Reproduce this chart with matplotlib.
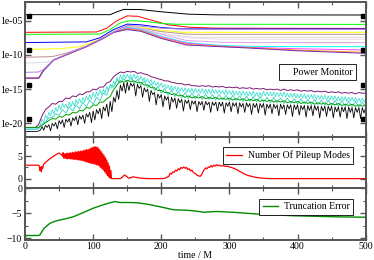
import numpy as np
import matplotlib
matplotlib.use("Agg")
import matplotlib.pyplot as plt
from matplotlib.lines import Line2D
import matplotlib.transforms as mtransforms

plt.rcParams['font.family'] = ['Liberation Serif', 'DejaVu Serif']
plt.rcParams['font.size'] = 7

# ---------------- Power monitor: smooth upper modes (log10 values) ----------------
t_black = [0, 125, 135, 145, 170, 200, 240, 280, 500]
v_black = [-4.12, -4.12, -3.7, -3.35, -3.38, -3.7, -4.05, -4.15, -4.17]

t_red = [0, 105, 120, 135, 150, 165, 185, 210, 240, 280, 500]
v_red = [-6.7, -6.65, -6.1, -5.0, -4.3, -4.35, -4.9, -5.6, -5.95, -6.1, -6.13]

t_green = [0, 110, 125, 140, 155, 175, 200, 220, 500]
v_green = [-7.0, -6.95, -6.3, -5.3, -5.0, -5.1, -5.4, -5.52, -5.54]

t_blue = [0, 90, 110, 130, 150, 170, 200, 230, 500]
v_blue = [-8.2, -8.1, -7.5, -6.3, -5.5, -5.6, -6.0, -6.2, -6.2]

t_yellow = [0, 50, 80, 100, 115, 130, 150, 170, 200, 230, 500]
v_yellow = [-9.2, -9.1, -8.8, -8.1, -7.5, -6.6, -5.85, -6.0, -6.4, -6.7, -6.7]

t_brown = [0, 40, 62, 90, 115, 130, 150, 170, 200, 240, 500]
v_brown = [-10.35, -10.25, -9.7, -8.7, -7.5, -6.65, -5.9, -6.1, -6.6, -6.99, -6.99]

t_grey = [0, 30, 45, 66, 90, 115, 130, 150, 170, 200, 250, 500]
v_grey = [-11.2, -11.1, -10.6, -9.7, -8.75, -7.55, -6.68, -5.95, -6.2, -6.9, -7.43, -7.43]

t_violet = [0, 20, 27, 42, 66, 90, 115, 130, 150, 170, 200, 240, 500]
v_violet = [-12.55, -12.5, -12.15, -10.7, -9.72, -8.75, -7.52, -6.65, -5.7, -5.8, -6.1, -6.27, -6.27]

t_low = [0, 20, 27, 42, 66, 90, 115, 130, 150, 170, 200, 237, 286, 330, 400, 500]
v_light = [-13.4, -13.4, -12.3, -10.75, -9.77, -8.8, -7.57, -6.7, -5.9, -6.1, -6.9, -7.5, -7.7, -7.72, -7.72, -7.72]
v_pink = [-13.4, -13.4, -12.3, -10.75, -9.77, -8.8, -7.57, -6.7, -5.9, -6.2, -7.0, -7.9, -8.15, -8.2, -8.21, -8.21]
v_cyan = [-13.4, -13.4, -12.3, -10.75, -9.77, -8.8, -7.57, -6.7, -6.0, -6.3, -7.3, -8.2, -8.6, -8.75, -8.8, -8.8]
v_magenta = [-13.4, -13.4, -12.3, -10.75, -9.77, -8.8, -7.57, -6.7, -6.1, -6.4, -7.4, -8.3, -8.7, -8.9, -9.1, -9.28]
v_orange = [-13.4, -13.4, -12.3, -10.75, -9.77, -8.8, -7.57, -6.7, -6.2, -6.45, -7.5, -8.45, -8.75, -8.95, -9.3, -9.62]
v_indigo = [-13.4, -13.4, -12.3, -10.75, -9.77, -8.8, -7.57, -6.7, -6.3, -6.55, -7.6, -8.55, -8.8, -9.0, -9.4, -9.77]

# ---------------- Power monitor: noisy lower modes (log10 values) ----------------
t_noisy5 = list(range(0, 501, 5))          # every 5 M
t_noisy25 = [k * 2.5 for k in range(201)]  # every 2.5 M

v_maroon = [-20.6, -20.6, -20.6, -20.6, -20.2, -18.9, -18.0, -17.6, -17.1, -17.2,
            -16.8, -16.8, -16.3, -16.4, -16.0, -16.1, -15.7, -15.8, -15.4, -15.4,
            -15.0, -15.1, -14.7, -14.7, -14.1, -13.9, -13.2, -12.8, -12.5, -12.6,
            -12.4, -12.5, -12.4, -12.7, -12.6, -12.8, -12.9, -13.2, -13.3, -13.5,
            -13.6, -13.8, -13.8, -14.0, -14.1, -14.2, -14.2, -14.4, -14.3, -14.5,
            -14.5, -14.6, -14.5, -14.6, -14.5, -14.7, -14.6, -14.7, -14.6, -14.8,
            -14.7, -14.8, -14.7, -14.9, -14.8, -14.9, -14.8, -15.0, -14.9, -15.0,
            -14.9, -15.1, -15.0, -15.1, -15.0, -15.2, -15.0, -15.2, -15.1, -15.2,
            -15.1, -15.3, -15.2, -15.3, -15.2, -15.4, -15.3, -15.4, -15.3, -15.5,
            -15.4, -15.5, -15.4, -15.6, -15.5, -15.6, -15.5, -15.7, -15.5, -15.6,
            -15.6]
v_turq1 = [-20.8, -20.8, -20.8, -20.8, -20.8, -20.8, -20.8, -20.8, -20.7, -20.2,
           -19.4, -19.9, -18.8, -19.3, -18.4, -18.9, -18.0, -18.6, -17.7, -18.3,
           -17.3, -18.0, -17.1, -17.7, -17.2, -17.8, -16.9, -17.6, -16.8, -17.5,
           -16.5, -17.2, -16.4, -17.0, -16.2, -16.9, -16.0, -16.6, -15.8, -16.5,
           -15.5, -16.2, -15.4, -16.0, -15.1, -15.8, -15.0, -15.6, -14.6, -15.3,
           -14.3, -14.9, -13.8, -14.4, -13.3, -13.9, -12.9, -13.6, -12.8, -13.5,
           -12.8, -13.4, -12.9, -13.6, -12.8, -13.5, -13.0, -13.7, -13.1, -13.8,
           -13.3, -14.0, -13.5, -14.1, -13.6, -14.3, -13.8, -14.5, -14.0, -14.6,
           -14.1, -14.8, -14.3, -14.9, -14.4, -15.1, -14.5, -15.2, -14.6, -15.3,
           -14.7, -15.3, -14.8, -15.4, -14.8, -15.5, -14.9, -15.5, -14.9, -15.6,
           -14.9, -15.5, -15.0, -15.6, -14.9, -15.6, -15.0, -15.6, -15.0, -15.7,
           -15.0, -15.6, -15.1, -15.7, -15.1, -15.7, -15.2, -15.8, -15.1, -15.8,
           -15.2, -15.8, -15.2, -15.9, -15.3, -15.9, -15.3, -16.0, -15.3, -15.9,
           -15.4, -16.0, -15.4, -16.0, -15.3, -16.1, -15.5, -16.1, -15.5, -16.1,
           -15.3, -16.0, -15.4, -16.0, -15.4, -16.0, -15.4, -16.1, -15.5, -16.1,
           -15.5, -16.1, -15.4, -16.2, -15.6, -16.2, -15.6, -16.2, -15.6, -16.3,
           -15.7, -16.3, -15.7, -16.3, -15.7, -16.4, -15.8, -16.4, -15.8, -16.4,
           -15.8, -16.5, -15.9, -16.5, -15.9, -16.5, -15.9, -16.6, -16.0, -16.6,
           -16.0, -16.6, -16.0, -16.7, -16.1, -16.7, -16.1, -16.7, -16.1, -16.8,
           -16.2, -16.8, -16.2, -16.8, -16.2, -16.9, -16.3, -16.9, -16.3, -16.9,
           -16.3]
v_turq2 = [-20.9, -20.9, -20.9, -20.9, -20.8, -20.1, -19.8, -19.2, -19.1, -18.6,
           -18.8, -18.0, -18.5, -17.6, -18.2, -17.3, -17.9, -16.9, -17.6, -16.6,
           -17.2, -16.2, -16.7, -15.6, -15.9, -14.4, -14.7, -13.6, -14.1, -13.5,
           -14.0, -13.4, -14.1, -13.6, -14.4, -13.8, -14.8, -14.2, -15.2, -14.6,
           -15.6, -14.9, -15.9, -15.1, -16.1, -15.3, -16.3, -15.5, -16.4, -15.6,
           -16.4, -15.7, -16.5, -15.7, -16.5, -15.8, -16.6, -15.8, -16.6, -15.9,
           -16.7, -15.9, -16.7, -16.0, -16.8, -16.0, -16.8, -16.1, -16.9, -16.1,
           -16.9, -16.2, -17.0, -16.2, -17.0, -16.3, -17.1, -16.3, -17.1, -16.4,
           -17.2, -16.4, -17.2, -16.5, -17.3, -16.5, -17.3, -16.6, -17.4, -16.6,
           -17.4, -16.7, -17.5, -16.7, -17.5, -16.8, -17.6, -16.8, -17.6, -16.9,
           -17.6]
v_greenN = [-20.6, -20.6, -20.6, -20.6, -20.6, -20.3, -19.9, -19.6, -19.3, -19.4,
            -19.0, -19.1, -18.7, -18.8, -18.4, -18.5, -18.1, -18.2, -17.7, -17.8,
            -17.3, -17.4, -16.9, -16.9, -16.4, -16.1, -15.1, -14.4, -13.8, -14.0,
            -13.7, -13.9, -13.8, -14.1, -14.0, -14.4, -14.4, -14.8, -14.8, -15.2,
            -15.2, -15.5, -15.5, -15.8, -15.7, -16.0, -15.9, -16.2, -16.0, -16.3,
            -16.1, -16.3, -16.1, -16.4, -16.2, -16.4, -16.2, -16.5, -16.3, -16.5,
            -16.3, -16.6, -16.4, -16.6, -16.4, -16.7, -16.5, -16.7, -16.5, -16.8,
            -16.6, -16.8, -16.6, -16.9, -16.7, -16.9, -16.7, -17.0, -16.8, -17.0,
            -16.8, -17.1, -16.9, -17.1, -16.9, -17.2, -17.0, -17.2, -17.0, -17.3,
            -17.1, -17.3, -17.1, -17.4, -17.2, -17.4, -17.2, -17.5, -17.3, -17.5,
            -17.3]
v_blackN = [-21.2, -21.2, -21.2, -21.2, -21.2, -21.2, -21.2, -21.2, -21.1, -21.0,
            -20.5, -21.0, -20.3, -20.6, -20.2, -21.1, -20.0, -20.4, -19.9, -20.8,
            -19.6, -20.1, -19.5, -20.6, -19.4, -19.8, -19.3, -20.4, -19.2, -19.6,
            -19.0, -20.2, -18.9, -19.4, -18.8, -20.0, -18.6, -19.1, -18.4, -19.9,
            -18.2, -19.5, -18.0, -18.6, -17.8, -19.3, -17.6, -18.2, -17.2, -19.0,
            -16.8, -18.3, -16.2, -16.9, -15.2, -16.5, -14.4, -15.3, -14.1, -15.6,
            -14.0, -15.2, -14.1, -14.6, -14.2, -16.0, -14.3, -14.9, -14.5, -16.2,
            -14.8, -15.4, -15.0, -16.8, -15.2, -15.8, -15.5, -17.3, -15.7, -16.3,
            -15.8, -17.6, -16.0, -16.6, -16.1, -18.0, -16.2, -16.9, -16.3, -17.8,
            -16.4, -17.0, -16.5, -18.2, -16.6, -17.1, -16.6, -18.0, -16.7, -17.2,
            -16.7, -18.3, -16.8, -17.3, -16.8, -18.1, -16.8, -17.3, -16.9, -18.4,
            -16.9, -17.4, -16.9, -18.2, -16.9, -17.5, -16.9, -18.5, -17.0, -17.5,
            -16.9, -18.3, -17.0, -17.5, -17.0, -18.6, -17.0, -17.6, -17.1, -18.4,
            -17.0, -17.6, -17.1, -18.7, -17.1, -17.7, -17.1, -18.5, -17.1, -17.7,
            -17.1, -18.8, -17.2, -17.8, -17.2, -18.6, -17.2, -17.8, -17.3, -18.9,
            -17.2, -17.9, -17.3, -18.7, -17.3, -17.9, -17.3, -19.0, -17.3, -18.0,
            -17.3, -18.8, -17.4, -18.0, -17.4, -19.1, -17.4, -18.1, -17.4, -18.9,
            -17.4, -18.1, -17.5, -19.2, -17.5, -18.2, -17.5, -19.0, -17.5, -18.2,
            -17.5, -19.2, -17.6, -18.3, -17.6, -19.1, -17.6, -18.3, -17.6, -19.3,
            -17.6, -18.4, -17.7, -19.2, -17.7, -18.4, -17.7, -19.3, -17.7, -18.5,
            -17.7]

# ---------------- Number of pileup modes ----------------
t_pile = [0, 5, 10, 15, 20, 21, 22, 23, 24, 25, 26, 27, 28, 30, 33, 36, 40, 44, 48, 50, 52, 54,
          55, 56, 57, 58, 59, 60, 61, 62, 63, 64, 65, 66, 67, 68, 69, 70, 71, 72, 73, 74, 75,
          76, 77, 78, 79, 80, 81, 82, 83, 84, 85, 86, 87, 88, 89, 90, 91, 92, 93, 94, 95, 96,
          97, 98, 99, 100, 101, 102, 103, 104, 105, 106, 107, 108, 109, 110, 111, 112, 113,
          114, 115, 116, 117, 118, 119, 120, 121, 122, 123, 124, 125, 126, 127,
          128, 140, 143, 146, 149, 152, 155, 158, 162, 166, 170, 175, 180, 200, 205, 208, 211,
          213, 215, 217, 219, 221, 223, 225, 227, 229, 231, 233, 235, 237, 239, 241, 243, 245,
          247, 249, 251, 253, 255, 257, 259, 261, 263, 265, 267, 269, 271, 273, 275, 277, 279,
          281, 283, 285, 288, 291, 294, 297, 300, 303, 306, 309, 312, 315, 318, 321, 324, 327,
          330, 333, 336, 340, 345, 350, 355, 360, 500]
n_pile = [3.0, 3.0, 3.0, 3.0, 3.0, 2.8, 1.8, 2.6, 1.5, 2.7, 2.3, 3.1, 3.3, 3.6, 4.0, 4.4, 4.8, 5.2, 5.6, 5.7, 5.5, 5.3,
          5.0, 5.8, 4.6, 5.5, 4.5, 5.6, 4.5, 5.7, 4.4, 5.6, 4.5, 5.8, 4.4, 5.7, 4.4, 5.9, 4.3, 5.8, 4.3, 6.0, 4.3,
          5.9, 4.2, 6.1, 4.2, 6.0, 4.1, 6.2, 4.1, 6.1, 4.0, 6.3, 3.9, 6.3, 3.8, 6.5, 3.7, 6.4, 3.6, 6.6, 3.5, 6.7,
          3.4, 6.9, 3.4, 7.0, 3.3, 7.1, 3.2, 7.1, 3.1, 7.0, 3.0, 6.8, 2.8, 6.4, 2.5, 6.0, 2.2,
          5.6, 1.9, 5.2, 1.5, 4.7, 1.1, 4.2, 0.7, 3.5, 0.4, 2.8, 0.1, 1.8, 0.0,
          0.0, 0.0, 0.4, 0.8, 0.5, 0.1, 0.2, 0.4, 0.3, 0.2, 0.1, 0.05, 0.0, 0.0, 0.05, 0.3, 0.5,
          1.2, 1.0, 1.5, 1.4, 1.9, 1.7, 2.2, 2.0, 2.5, 2.3, 2.6, 2.3, 2.5, 2.0, 2.2, 1.7, 1.9,
          1.4, 1.2, 1.0, 0.7, 0.6, 0.5, 0.8, 1.5, 2.0, 2.4, 2.2, 2.6, 2.5, 2.9, 2.6, 3.0, 2.8,
          3.1, 2.9, 3.0, 2.8, 2.9, 2.7, 2.8, 2.6, 2.5, 2.3, 2.1, 1.9, 1.6, 1.4, 1.1, 0.9, 0.7,
          0.6, 0.5, 0.35, 0.25, 0.15, 0.08, 0.03, 0.0, 0.0]

# ---------------- Truncation error ----------------
t_trunc = [0, 20, 22, 28, 36.7, 44, 51, 60, 71, 85, 100, 115, 125, 132, 139, 150, 164, 180, 198,
           218, 237, 250, 262, 281, 305, 345, 394, 453, 500]
v_trunc = [-9.45, -9.45, -9.3, -8.0, -7.0, -6.6, -6.35, -6.1, -5.7, -4.9, -4.0, -3.3, -2.9, -2.65,
           -2.85, -2.85, -2.9, -3.2, -3.7, -4.3, -4.4, -4.55, -4.8, -4.65, -4.8, -5.2, -5.5, -5.7, -5.8]

upper_modes = [
    (t_black, v_black, '#000000'),
    (t_red, v_red, '#ff0000'),
    (t_green, v_green, '#00ff00'),
    (t_blue, v_blue, '#0000ff'),
    (t_yellow, v_yellow, '#ffff00'),
    (t_brown, v_brown, '#bc8f8f'),
    (t_grey, v_grey, '#dcdcdc'),
    (t_low, v_light, '#f0d8f0'),
    (t_low, v_pink, '#e0a0e8'),
    (t_low, v_cyan, '#00ffff'),
    (t_low, v_magenta, '#ff40ff'),
    (t_low, v_orange, '#ffa500'),
    (t_low, v_indigo, '#7221bc'),
    (t_violet, v_violet, '#b080e0'),
]
lower_modes = [
    (t_noisy5, v_maroon, '#7a1a78', 0.7),
    (t_noisy5, v_turq2, '#30d0c0', 0.6),
    (t_noisy25, v_turq1, '#40e0d0', 0.6),
    (t_noisy5, v_greenN, '#00a000', 0.7),
    (t_noisy25, v_blackN, '#000000', 0.6),
]

fig = plt.figure(figsize=(3.74, 2.6), dpi=100)
L, W = 25 / 374, 340.7 / 374
ax1 = fig.add_axes([L, 1 - 137 / 260, W, 135 / 260])
ax2 = fig.add_axes([L, 1 - 188 / 260, W, 51 / 260])
ax3 = fig.add_axes([L, 1 - 240 / 260, W, 52 / 260])

spine_c = '#555555'
for ax in (ax1, ax2, ax3):
    ax.set_xlim(0, 500)
    for s in ax.spines.values():
        s.set_color(spine_c)
        s.set_linewidth(1.4)
    ax.tick_params(which='both', direction='in', top=True, right=True, color=spine_c,
                   labelsize=7, pad=2)
    ax.tick_params(which='major', length=4, width=1)
    ax.tick_params(which='minor', length=2, width=0.8)
    ax.set_xticks(range(0, 501, 100))
    ax.set_xticks(range(50, 500, 100), minor=True)

# top panel
for tt, vv, c in upper_modes:
    ax1.plot(tt, 10.0 ** np.array(vv), color=c, lw=0.7)
for tt, vv, c, lw in lower_modes:
    ax1.plot(tt, 10.0 ** np.array(vv), color=c, lw=lw)
ax1.set_yscale('log')
ax1.set_ylim(1e-22, 10 ** -2.27)
yt = [1e-5, 1e-10, 1e-15, 1e-20]
ax1.set_yticks(yt)
ax1.set_yticklabels(['1e-05', '1e-10', '1e-15', '1e-20'])
ax1.yaxis.set_minor_locator(matplotlib.ticker.NullLocator())
ax1.tick_params(labelbottom=False)
trans = mtransforms.blended_transform_factory(ax1.transAxes, ax1.transData)
for y in yt:
    ax1.plot([0.011, 0.992], [y * 10 ** 0.65] * 2, ls='none', marker='s', ms=2.3,
             color='black', transform=trans, clip_on=False)
ax1.legend([Line2D([], [], color='none')], ['Power Monitor'], loc='lower right',
           bbox_to_anchor=(0.972, 0.42), borderaxespad=0, fancybox=False,
           edgecolor='black', framealpha=1, handlelength=0.6, handletextpad=0.5,
           borderpad=0.35, fontsize=7).get_frame().set_linewidth(0.6)

# middle panel
ax2.plot(t_pile, n_pile, color='#ff0000', lw=0.9, label='Number Of Pileup Modes')
ax2.set_ylim(-2.1, 9.3)
ax2.set_yticks([0, 5])
ax2.set_yticks([2.5, 7.5], minor=True)
ax2.tick_params(labelbottom=False)
ax2.legend(loc='upper right', bbox_to_anchor=(0.963, 0.80), borderaxespad=0, fancybox=False,
           edgecolor='black', framealpha=1, handlelength=1.6, handletextpad=0.6,
           borderpad=0.35, fontsize=7).get_frame().set_linewidth(0.6)

# bottom panel
ax3.plot(t_trunc, v_trunc, color='#008b00', lw=1.0, label='Truncation Error')
ax3.set_ylim(-10.35, 0.05)
ax3.set_yticks([-10, -5, 0])
ax3.set_yticks([-7.5, -2.5], minor=True)
ax3.tick_params(axis='x', pad=1.5)
ax3.set_xlabel('time / M', fontsize=7, labelpad=0)
ax3.legend(loc='upper right', bbox_to_anchor=(0.963, 0.79), borderaxespad=0, fancybox=False,
           edgecolor='black', framealpha=1, handlelength=1.6, handletextpad=0.6,
           borderpad=0.35, fontsize=7).get_frame().set_linewidth(0.6)

fig.savefig('out.png', dpi=100)
